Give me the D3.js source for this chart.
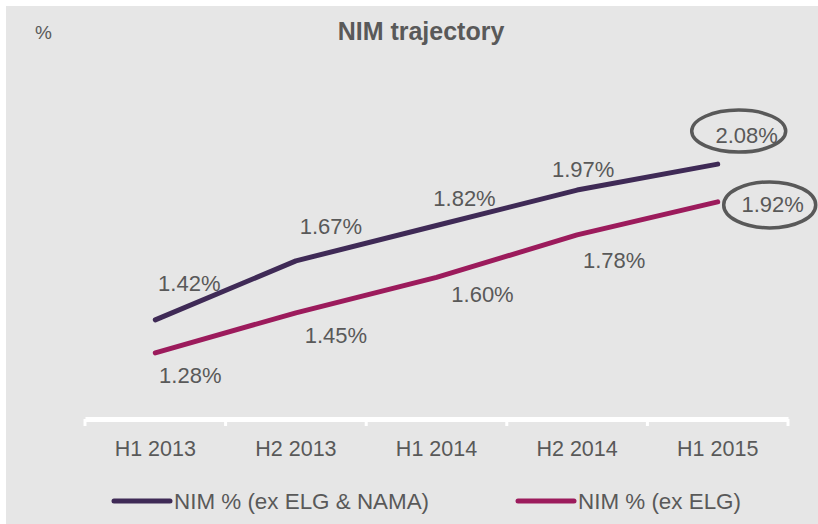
<!DOCTYPE html>
<html>
<head>
<meta charset="utf-8">
<script src="https://cdn.jsdelivr.net/npm/d3@7/dist/d3.min.js"></script>
<style>
  html, body { margin: 0; padding: 0; background: #fff; }
  svg { display: block; font-family: "Liberation Sans", Arial, sans-serif; }
</style>
</head>
<body>
<svg id="chart" width="818" height="524"></svg>
<script>
const categories = ['H1 2013', 'H2 2013', 'H1 2014', 'H2 2014', 'H1 2015'];
const nimExElgNama = [1.42, 1.67, 1.82, 1.97, 2.08];
const nimExElg = [1.28, 1.45, 1.60, 1.78, 1.92];
const seriesNames = ['NIM % (ex ELG & NAMA)', 'NIM % (ex ELG)'];

// label nudges, hand placed in the source chart
const nudgeA = [[34, -29], [35, -27], [28, -19], [6, -13], [29, -21]];
const nudgeB = [[35, 30], [40, 30], [46, 25], [37, 33], [55, 10]];

const W = 818, H = 524;
const textColor = '#595959';
const colors = ['#3f2a56', '#9c1b5c'];

const svg = d3.select('#chart');

svg.append('rect')
  .attr('x', 6).attr('y', 6)
  .attr('width', W - 6).attr('height', H - 6)
  .attr('fill', '#e6e6e6');

svg.append('text')
  .attr('x', 421).attr('y', 40)
  .attr('text-anchor', 'middle')
  .attr('font-size', 25).attr('font-weight', 'bold')
  .attr('fill', textColor)
  .text('NIM trajectory');

svg.append('text')
  .attr('x', 35).attr('y', 39)
  .attr('font-size', 19)
  .attr('fill', textColor)
  .text('%');

const x = d3.scaleBand().domain(categories).range([85, 788]);
const y = d3.scaleLinear().domain([1.0, 2.5]).range([419, 65]);
const cx = d => x(d) + x.bandwidth() / 2;

// x axis: white baseline with ticks between categories
const axis = svg.append('g')
  .attr('transform', `translate(0,${y(1.0)})`)
  .call(d3.axisBottom(x).tickSize(0).tickPadding(22).tickSizeOuter(0));
axis.select('.domain').attr('stroke', '#fff').attr('stroke-width', 5);
axis.selectAll('.tick text')
  .attr('font-size', 21.5)
  .attr('fill', textColor)
  .attr('font-family', '"Liberation Sans", Arial, sans-serif');

const bounds = categories.map(c => x(c)).concat([x.range()[1]]);
axis.selectAll('.bound')
  .data(bounds)
  .enter().append('line')
  .attr('class', 'bound')
  .attr('x1', d => d).attr('x2', d => d)
  .attr('y1', 0).attr('y2', 7)
  .attr('stroke', '#fff').attr('stroke-width', 3);

const line = d3.line()
  .x(d => cx(d.cat))
  .y(d => y(d.v));

const series = [nimExElgNama, nimExElg].map(vals =>
  vals.map((v, i) => ({ cat: categories[i], v })));

series.forEach((s, k) => {
  svg.append('path')
    .datum(s)
    .attr('d', line)
    .attr('fill', 'none')
    .attr('stroke', colors[k])
    .attr('stroke-width', 5)
    .attr('stroke-linecap', 'round')
    .attr('stroke-linejoin', 'round');
});

const nudges = [nudgeA, nudgeB];
series.forEach((s, k) => {
  svg.selectAll('.lbl' + k)
    .data(s)
    .enter().append('text')
    .attr('class', 'lbl' + k)
    .attr('x', (d, i) => cx(d.cat) + nudges[k][i][0])
    .attr('y', (d, i) => y(d.v) + nudges[k][i][1])
    .attr('text-anchor', 'middle')
    .attr('font-size', 22)
    .attr('fill', textColor)
    .text(d => d.v.toFixed(2) + '%');
});

// circled last values
const last = categories.length - 1;
const rings = [
  { k: 0, dx: -8, dy: -12, rx: 47, ry: 21 },
  { k: 1, dx: -3, dy: -7, rx: 46, ry: 23 }
];
svg.selectAll('.ring')
  .data(rings)
  .enter().append('ellipse')
  .attr('class', 'ring')
  .attr('cx', d => cx(categories[last]) + nudges[d.k][last][0] + d.dx)
  .attr('cy', d => y(series[d.k][last].v) + nudges[d.k][last][1] + d.dy)
  .attr('rx', d => d.rx).attr('ry', d => d.ry)
  .attr('fill', 'none')
  .attr('stroke', textColor)
  .attr('stroke-width', 3.5);

// legend
const legendX = [114, 518];
const legend = svg.selectAll('.leg')
  .data(seriesNames)
  .enter().append('g')
  .attr('class', 'leg')
  .attr('transform', (d, i) => `translate(${legendX[i]},501)`);
legend.append('line')
  .attr('x1', 0).attr('x2', 56)
  .attr('stroke', (d, i) => colors[i])
  .attr('stroke-width', 5)
  .attr('stroke-linecap', 'round');
legend.append('text')
  .attr('x', 60).attr('y', 8)
  .attr('font-size', 22.4)
  .attr('fill', textColor)
  .text(d => d);
</script>
</body>
</html>
